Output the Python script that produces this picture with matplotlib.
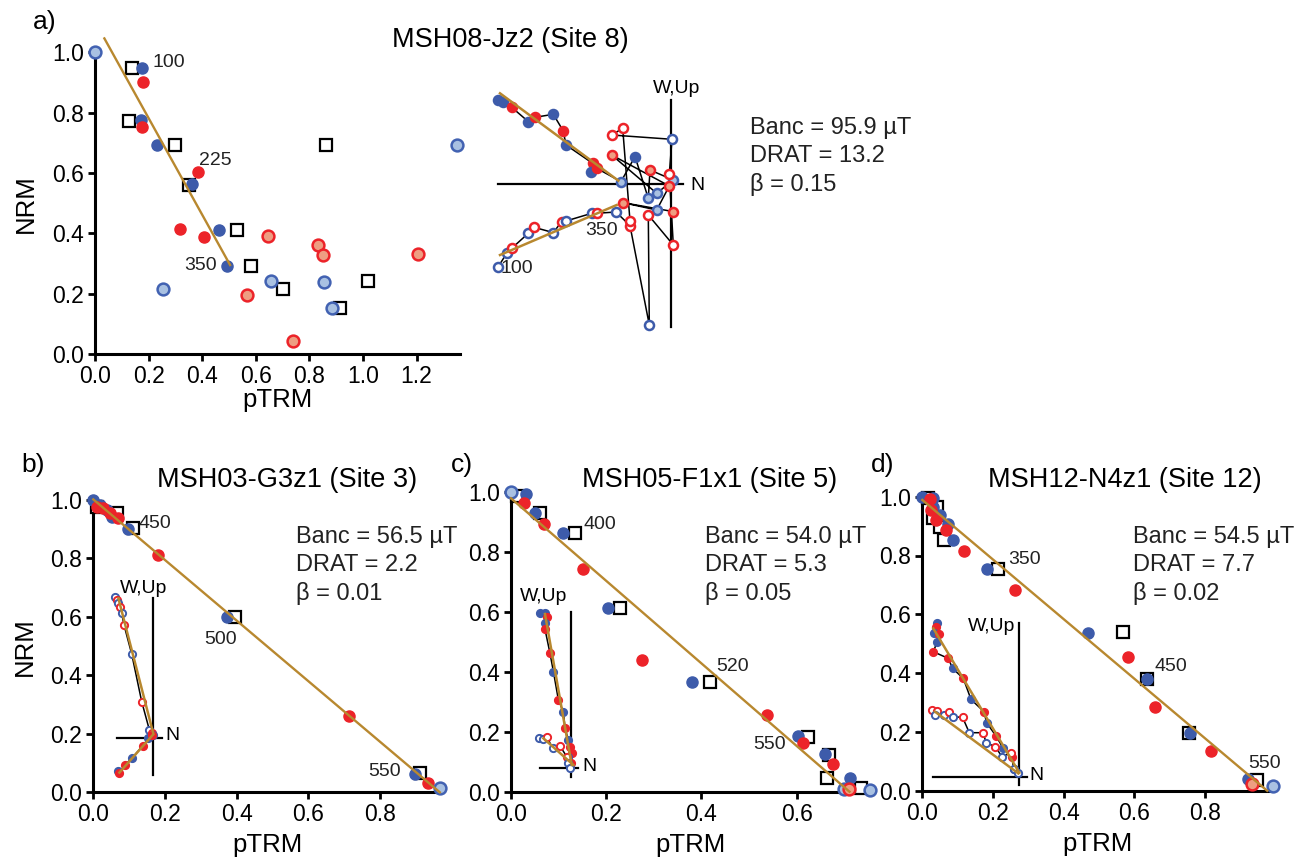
import matplotlib
matplotlib.use('Agg')
import matplotlib.pyplot as plt

plt.rcParams['font.family'] = ['Liberation Sans', 'DejaVu Sans']

W, H = 1302, 861
BLUE = '#3D5BAA'
RED = '#EC2329'
LTB_FACE = '#A9C1E2'
LTB_EDGE = '#4262B2'
LTR_FACE = '#EE9E82'
GOLD = '#B8882F'

# ---------------- Arai plot data ----------------
A_BLUE_X = [0.174, 0.172, 0.233, 0.363, 0.461, 0.491]
A_BLUE_Y = [0.949, 0.776, 0.693, 0.565, 0.410, 0.292]
A_RED_X = [0.178, 0.174, 0.384, 0.316, 0.408]
A_RED_Y = [0.900, 0.754, 0.603, 0.413, 0.388]
A_LTB_X = [0.0, 0.255, 0.655, 0.856, 0.883, 1.35]
A_LTB_Y = [1.0, 0.214, 0.242, 0.240, 0.154, 0.693]
A_LTR_X = [0.644, 0.833, 0.850, 1.204, 0.567, 0.738]
A_LTR_Y = [0.392, 0.360, 0.328, 0.333, 0.194, 0.044]
A_SQ_X = [0.139, 0.128, 0.297, 0.350, 0.530, 0.582, 0.700, 0.861, 0.914, 1.020]
A_SQ_Y = [0.949, 0.773, 0.693, 0.559, 0.410, 0.293, 0.214, 0.693, 0.154, 0.242]
A_FIT_X = [0.035, 0.504]
A_FIT_Y = [1.046, 0.295]
A_LAB = [("100", 0.274, 0.967), ("225", 0.450, 0.643), ("350", 0.392, 0.293)]

B_BLUE_X = [0.0, 0.019, 0.037, 0.051, 0.098, 0.372, 0.898]
B_BLUE_Y = [1.0, 0.983, 0.966, 0.943, 0.900, 0.599, 0.063]
B_RED_X = [0.009, 0.028, 0.047, 0.070, 0.181, 0.714, 0.935]
B_RED_Y = [0.977, 0.971, 0.954, 0.937, 0.811, 0.262, 0.031]
B_LTB_X = [0.967]
B_LTB_Y = [0.016]
B_LTR_X = []
B_LTR_Y = []
B_SQ_X = [0.009, 0.065, 0.110, 0.395, 0.913]
B_SQ_Y = [0.977, 0.954, 0.904, 0.601, 0.067]
B_FIT_X = [0.0, 0.967]
B_FIT_Y = [1.002, 0.0]
B_LAB = [("450", 0.172, 0.918), ("500", 0.356, 0.524), ("550", 0.814, 0.071)]

C_BLUE_X = [0.032, 0.050, 0.110, 0.204, 0.381, 0.602, 0.660, 0.712]
C_BLUE_Y = [0.994, 0.928, 0.863, 0.614, 0.367, 0.186, 0.126, 0.047]
C_RED_X = [0.028, 0.070, 0.152, 0.275, 0.537, 0.614, 0.677]
C_RED_Y = [0.963, 0.894, 0.741, 0.439, 0.256, 0.161, 0.092]
C_LTB_X = [0.0, 0.700, 0.754]
C_LTB_Y = [1.0, 0.009, 0.006]
C_LTR_X = [0.711]
C_LTR_Y = [0.009]
C_SQ_X = [0.012, 0.060, 0.134, 0.229, 0.419, 0.623, 0.668, 0.664, 0.735]
C_SQ_Y = [0.985, 0.928, 0.861, 0.614, 0.367, 0.183, 0.124, 0.047, 0.013]
C_FIT_X = [0.0, 0.711]
C_FIT_Y = [0.978, 0.0]
C_LAB = [("400", 0.187, 0.892), ("520", 0.465, 0.417), ("550", 0.544, 0.156)]

D_BLUE_X = [0.0, 0.031, 0.029, 0.050, 0.074, 0.088, 0.182, 0.468, 0.637, 0.758, 0.923]
D_BLUE_Y = [1.0, 0.994, 0.966, 0.938, 0.907, 0.853, 0.753, 0.537, 0.379, 0.197, 0.039]
D_RED_X = [0.022, 0.026, 0.039, 0.067, 0.119, 0.262, 0.583, 0.658, 0.817]
D_RED_Y = [0.991, 0.955, 0.921, 0.887, 0.816, 0.683, 0.456, 0.286, 0.136]
D_LTB_X = [0.993]
D_LTB_Y = [0.017]
D_LTR_X = [0.932]
D_LTR_Y = [0.022]
D_SQ_X = [0.017, 0.041, 0.029, 0.050, 0.062, 0.215, 0.569, 0.637, 0.756, 0.946]
D_SQ_Y = [0.994, 0.966, 0.926, 0.898, 0.853, 0.753, 0.539, 0.379, 0.197, 0.036]
D_FIT_X = [0.0, 0.976]
D_FIT_Y = [0.989, 0.0]
D_LAB = [("350", 0.289, 0.785), ("450", 0.704, 0.422), ("550", 0.970, 0.093)]

TITLES = ["MSH08-Jz2 (Site 8)", "MSH03-G3z1 (Site 3)", "MSH05-F1x1 (Site 5)", "MSH12-N4z1 (Site 12)"]
LETTERS = ["a)", "b)", "c)", "d)"]
STATS = [["Banc = 95.9 µT", "DRAT = 13.2", "β = 0.15"],
         ["Banc = 56.5 µT", "DRAT = 2.2", "β = 0.01"],
         ["Banc = 54.0 µT", "DRAT = 5.3", "β = 0.05"],
         ["Banc = 54.5 µT", "DRAT = 7.7", "β = 0.02"]]

# ---------------- Zijderveld data (b = blue, r = red, B = light blue, R = light red) ----------------
ZA_UP_X = [-173.3, -167.7, -159.3, -142.7, -136.0, -117.7, -107.7, -105.0, -78.3, -80.0, -74.3, -50.0,
           -36.0, -22.7, -21.0, 2.3, -14.3, -59.3, -1.7, -14.3, -48.3, 2.3]
ZA_UP_Y = [84.3, 82.7, 77.0, 62.7, 67.0, 70.0, 53.3, 39.3, 21.0, 12.0, 16.0, 2.7,
           27.7, -14.0, 14.3, 4.3, -9.0, 29.3, -1.7, -25.7, -18.3, -27.3]
ZA_UP_K = "bbrbrbrbrbrBbBRBBRRBRR"
ZA_DN_X = [-172.7, -164.3, -159.3, -142.7, -137.0, -117.7, -109.3, -105.0, -79.3, -74.3, -55.0, -41.0,
           -21.7, -22.7, 2.3, -1.7, 1.0, -59.3, -48.3, -41.0]
ZA_DN_Y = [-82.3, -69.0, -64.0, -49.0, -43.0, -48.3, -37.3, -36.7, -29.0, -29.0, -27.7, -41.3,
           -140.7, -30.7, -60.7, 10.3, 45.0, 49.3, 56.0, -36.7]
ZA_DN_K = "bbrbrbrbbrbrbrrrbrrr"
ZA_FIT_UP = ([-171.0, -52.7], [91.0, 3.7])
ZA_FIT_DN = ([-171.0, -54.3], [-70.7, -20.7])

ZB_UP_X = [-37.7, -36.0, -34.3, -32.7, -31.0, -28.7, -21.0, -11.0, -3.3, -0.3, 0.7]
ZB_UP_Y = [141.7, 138.3, 135.0, 131.7, 125.0, 113.3, 84.3, 36.7, 8.3, 5.0, 3.3]
ZB_UP_K = "brbrbrbrbrb"
ZB_DN_X = [-35.0, -33.3, -27.7, -21.0, -10.0, -4.3, -1.0]
ZB_DN_Y = [-32.3, -34.3, -26.7, -20.0, -7.7, 0.0, 3.3]
ZB_DN_K = "brrbrbr"
ZB_FIT_UP = ([-34.3, 0.7], [140.0, 4.3])
ZB_FIT_DN = ([-33.3, 0.0], [-34.3, 3.3])

ZC_UP_X = [-30.7, -25.7, -24.0, -25.7, -25.7, -20.7, -17.3, -12.3, -7.3, -5.7, -2.3, -0.7, 1.0, -2.3, 0.0]
ZC_UP_Y = [155.0, 155.0, 151.0, 145.0, 139.0, 115.0, 96.7, 68.3, 56.7, 40.0, 28.3, 21.7, 15.0, 11.7, 5.0]
ZC_UP_K = "bbrbrrbrbrbrrbr"
ZC_DN_X = [-31.3, -27.3, -24.0, -18.0, -10.7, -4.0, -2.3, -0.7]
ZC_DN_Y = [30.0, 29.0, 31.7, 20.0, 22.3, 11.7, 5.0, 0.0]
ZC_DN_K = "bbrbrrbb"
ZC_FIT_UP = ([-25.7, 1.0], [154.3, 3.3])
ZC_FIT_DN = ([-27.3, 2.7], [30.0, 3.3])

ZD_UP_X = [-82.7, -83.3, -85.3, -80.0, -82.0, -86.0, -71.0, -66.7, -56.0, -48.3, -35.3, -32.7, -23.3, -16.0, -7.7, -5.0]
ZD_UP_Y = [153.3, 150.0, 144.0, 142.7, 135.0, 125.0, 118.3, 108.3, 98.3, 77.3, 65.0, 54.0, 40.7, 28.3, 19.3, 7.3]
ZD_UP_K = "brbrbrrbrbrbrbrb"
ZD_DN_X = [-87.3, -82.7, -84.0, -75.0, -70.0, -66.7, -56.7, -50.0, -36.0, -33.3, -24.0, -17.3, -8.3, -5.0, -1.7]
ZD_DN_Y = [66.7, 66.0, 61.7, 61.7, 65.0, 60.0, 59.3, 44.0, 44.0, 34.0, 30.0, 20.0, 24.0, 7.3, 4.0]
ZD_DN_K = "rrbbrbrbrbrbrbb"
ZD_FIT_UP = ([-86.0, 0.0], [148.3, 4.0])
ZD_FIT_DN = ([-84.3, -1.0], [65.0, 3.3])

fig = plt.figure(figsize=(W / 100, H / 100), dpi=100)


def px_rect(left, bottom_py, w, h):
    return [left / W, 1 - bottom_py / H, w / W, h / H]


def main_panel(rect, xmax, xticks, bx, by, rx, ry, lbx, lby, lrx, lry, sx, sy, fx, fy, labs, ylabel, xpad):
    ax = fig.add_axes(rect)
    ax.set_facecolor('none')
    for s in ['top', 'right']:
        ax.spines[s].set_visible(False)
    for s in ['left', 'bottom']:
        ax.spines[s].set_linewidth(2.2)
    ax.set_xlim(0, xmax)
    ax.set_ylim(0, 1.0)
    ax.set_xticks(xticks)
    ax.set_xticklabels([f"{t:.1f}" for t in xticks])
    yt = [0.0, 0.2, 0.4, 0.6, 0.8, 1.0]
    ax.set_yticks(yt)
    ax.set_yticklabels([f"{t:.1f}" for t in yt])
    ax.tick_params(direction='out', length=5, width=2, labelsize=16.5, pad=3)
    ax.plot(sx, sy, 's', ms=8.5, mfc='white', mec='black', mew=1.6, ls='none', zorder=3, clip_on=False)
    ax.plot(bx, by, 'o', ms=8, mfc=BLUE, mec=BLUE, ls='none', zorder=4, clip_on=False)
    ax.plot(rx, ry, 'o', ms=8, mfc=RED, mec=RED, ls='none', zorder=4, clip_on=False)
    if lbx:
        ax.plot(lbx, lby, 'o', ms=8.5, mfc=LTB_FACE, mec=LTB_EDGE, mew=1.8, ls='none', zorder=4, clip_on=False)
    if lrx:
        ax.plot(lrx, lry, 'o', ms=8.5, mfc=LTR_FACE, mec=RED, mew=1.8, ls='none', zorder=4, clip_on=False)
    ax.plot(fx, fy, '-', color=GOLD, lw=1.7, zorder=6, clip_on=False)
    for t, x, y in labs:
        ax.text(x, y, t, fontsize=14, ha='center', va='center', color='#222222', zorder=7)
    ax.set_xlabel("pTRM", fontsize=18.5, labelpad=xpad)
    if ylabel:
        ax.set_ylabel("NRM", fontsize=18.5, labelpad=10)
    return ax


def zij(cx, cy, xlim, ylim, tracks, fits, hline, vline, npos, wpos, ms, mew, labels=()):
    rect = [(cx + xlim[0]) / W, 1 - (cy - ylim[0]) / H, (xlim[1] - xlim[0]) / W, (ylim[1] - ylim[0]) / H]
    ax = fig.add_axes(rect)
    ax.set_xlim(*xlim)
    ax.set_ylim(*ylim)
    ax.set_axis_off()
    ax.patch.set_alpha(0)
    ax.plot(hline, [0, 0], color='black', lw=1.6, zorder=1)
    ax.plot([0, 0], vline, color='black', lw=1.6, zorder=1)
    for xs, ys, ks, filled in tracks:
        ax.plot(xs, ys, '-', color='black', lw=1.1, zorder=2)
        for x, y, k in zip(xs, ys, ks):
            if k == 'b':
                col = BLUE
                face = BLUE if filled else 'white'
            elif k == 'r':
                col = RED
                face = RED if filled else 'white'
            elif k == 'B':
                col, face = LTB_EDGE, LTB_FACE
            else:
                col, face = RED, LTR_FACE
            ax.plot([x], [y], 'o', ms=ms, mfc=face, mec=col, mew=mew, zorder=3)
    for fx, fy in fits:
        ax.plot(fx, fy, '-', color=GOLD, lw=1.8, zorder=4)
    ax.text(npos[0], npos[1], "N", fontsize=14, ha='center', va='center')
    ax.text(wpos[0], wpos[1], "W,Up", fontsize=14, ha='center', va='center')
    for t, x, y in labels:
        ax.text(x, y, t, fontsize=14, ha='center', va='center', color='#222222')
    return ax


# Panel a
main_panel(px_rect(95, 354, 364.5, 301.7), 1.36, [0.0, 0.2, 0.4, 0.6, 0.8, 1.0, 1.2],
           A_BLUE_X, A_BLUE_Y, A_RED_X, A_RED_Y, A_LTB_X, A_LTB_Y, A_LTR_X, A_LTR_Y,
           A_SQ_X, A_SQ_Y, A_FIT_X, A_FIT_Y, A_LAB, True, 0)
# Panel b
main_panel(px_rect(93.3, 792.3, 347.6, 292.3), 0.97, [0.0, 0.2, 0.4, 0.6, 0.8],
           B_BLUE_X, B_BLUE_Y, B_RED_X, B_RED_Y, B_LTB_X, B_LTB_Y, B_LTR_X, B_LTR_Y,
           B_SQ_X, B_SQ_Y, B_FIT_X, B_FIT_Y, B_LAB, True, 5)
# Panel c
main_panel(px_rect(511, 791.7, 359.4, 300), 0.755, [0.0, 0.2, 0.4, 0.6],
           C_BLUE_X, C_BLUE_Y, C_RED_X, C_RED_Y, C_LTB_X, C_LTB_Y, C_LTR_X, C_LTR_Y,
           C_SQ_X, C_SQ_Y, C_FIT_X, C_FIT_Y, C_LAB, False, 5)
# Panel d
main_panel(px_rect(922.3, 790.7, 349.8, 294), 0.99, [0.0, 0.2, 0.4, 0.6, 0.8],
           D_BLUE_X, D_BLUE_Y, D_RED_X, D_RED_Y, D_LTB_X, D_LTB_Y, D_LTR_X, D_LTR_Y,
           D_SQ_X, D_SQ_Y, D_FIT_X, D_FIT_Y, D_LAB, False, 5)

# Zijderveld insets
zij(671, 184.3, (-185, 40), (-150, 108),
    [(ZA_UP_X, ZA_UP_Y, ZA_UP_K, True), (ZA_DN_X, ZA_DN_Y, ZA_DN_K, False)],
    [ZA_FIT_UP, ZA_FIT_DN], (-172.7, 12.3), (84.3, -142.3), (26.3, -1.7), (5.7, 96.0), 6.5, 1.8,
    labels=[("350", -69.3, -46.3), ("100", -153.7, -84.0)])
zij(152.7, 738.3, (-45, 30), (-45, 162),
    [(ZB_UP_X, ZB_UP_Y, ZB_UP_K, False), (ZB_DN_X, ZB_DN_Y, ZB_DN_K, True)],
    [ZB_FIT_UP, ZB_FIT_DN], (-36.0, 9.0), (140.0, -36.7), (19.5, 2.3), (-9.0, 150.0), 5.2, 1.4)
zij(570.7, 768.3, (-40, 30), (-15, 180),
    [(ZC_UP_X, ZC_UP_Y, ZC_UP_K, True), (ZC_DN_X, ZC_DN_Y, ZC_DN_K, False)],
    [ZC_FIT_UP, ZC_FIT_DN], (-30.7, 7.6), (156.6, -8.4), (18.6, 1.6), (-27.3, 171.7), 5.2, 1.4)
zij(1019.3, 776.7, (-95, 30), (-15, 165),
    [(ZD_UP_X, ZD_UP_Y, ZD_UP_K, True), (ZD_DN_X, ZD_DN_Y, ZD_DN_K, False)],
    [ZD_FIT_UP, ZD_FIT_DN], (-86.7, 7.4), (154.0, -8.3), (17.4, 1.7), (-27.6, 150.0), 5.2, 1.4)

# Texts
letter_pos = [(45, 22), (33, 465), (462, 465), (883, 465)]
title_pos = [(510, 40), (287, 480), (710, 480), (1125, 480)]
stats_pos = [(750, 128), (296, 537), (705, 537), (1133, 537)]
for i in range(4):
    lx, ly = letter_pos[i]
    fig.text(lx / W, 1 - ly / H, LETTERS[i], fontsize=19, ha='center', va='center')
    tx, ty = title_pos[i]
    fig.text(tx / W, 1 - ty / H, TITLES[i], fontsize=19.5, ha='center', va='center')
    sx, sy = stats_pos[i]
    for j, line in enumerate(STATS[i]):
        fig.text(sx / W, 1 - (sy + 28.3 * j) / H, line, fontsize=17, ha='left', va='center',
                 color='#222222')

fig.savefig("out.png", dpi=100)
